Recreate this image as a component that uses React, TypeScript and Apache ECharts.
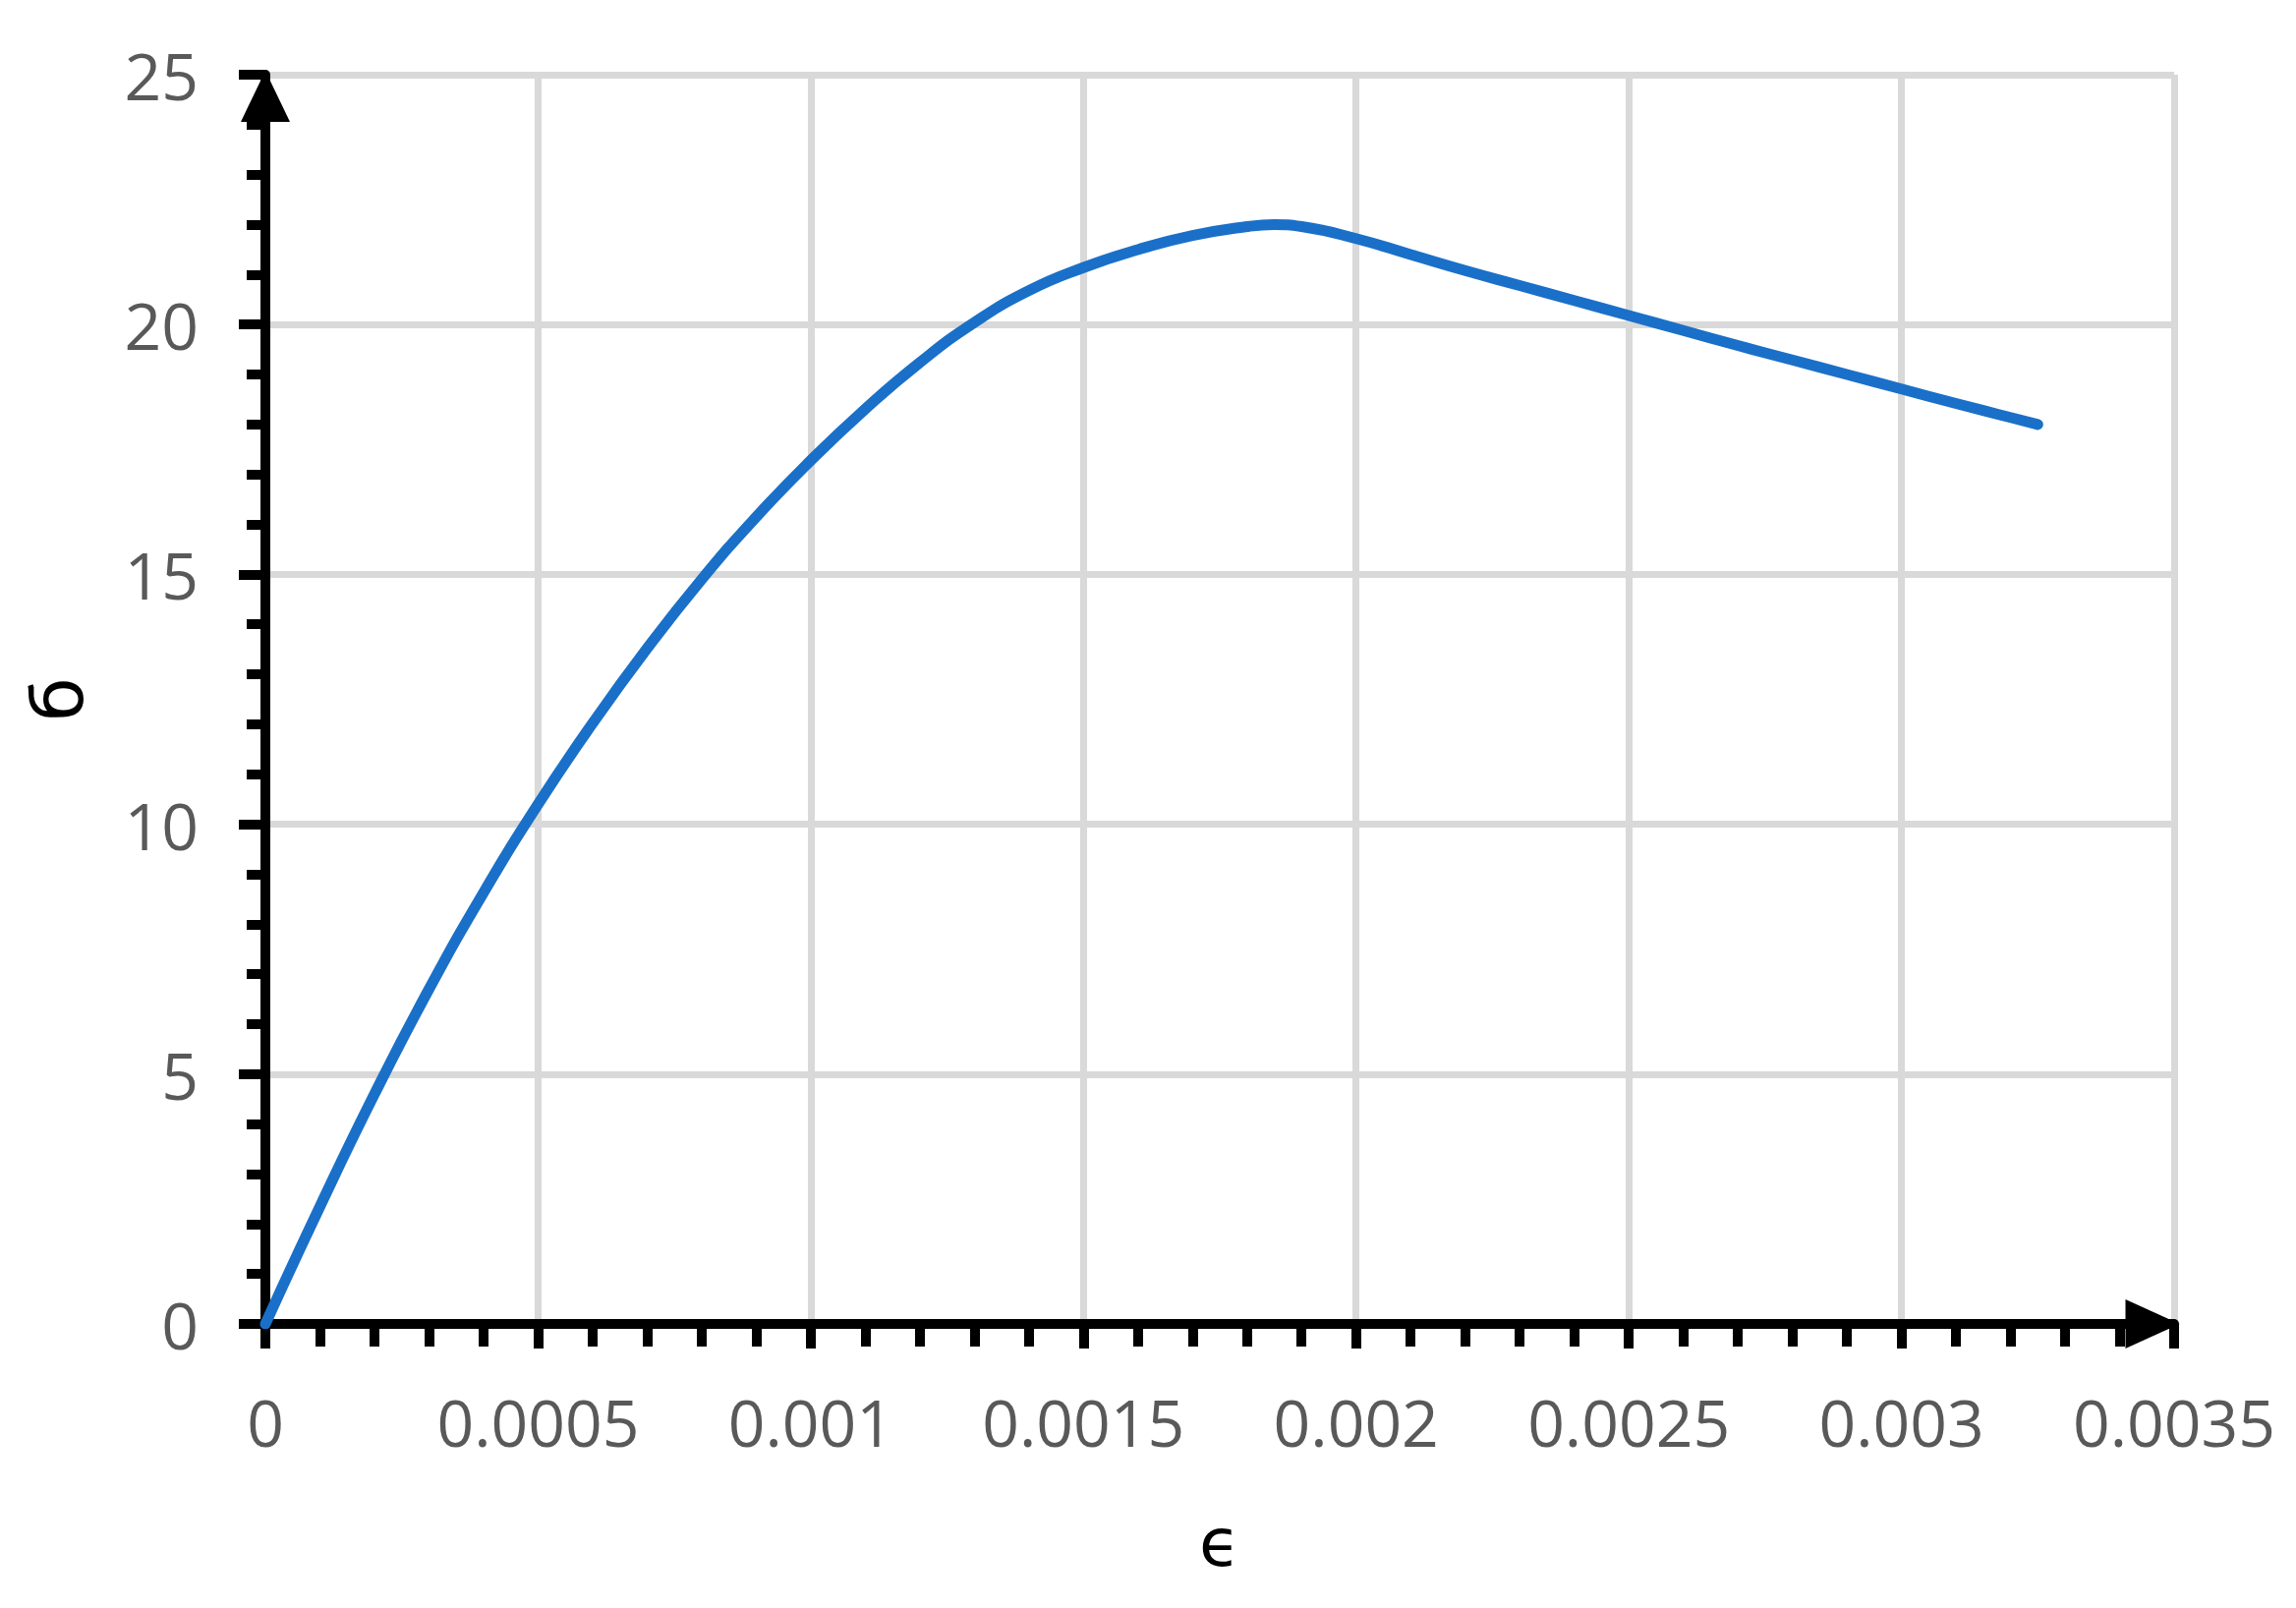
import React, { useEffect, useRef } from "react";
import * as echarts from "echarts";

// Strain (ε) and stress (σ)
const strain = [
  0, 0.0001, 0.0002, 0.0003, 0.0004, 0.0005, 0.0006, 0.0007, 0.0008, 0.0009,
  0.001, 0.0011, 0.0012, 0.0013, 0.0014, 0.0015, 0.0016, 0.0017, 0.0018,
  0.00185, 0.0019, 0.002, 0.0021, 0.0022, 0.0023, 0.0024, 0.0025, 0.0026,
  0.0027, 0.0028, 0.0029, 0.003, 0.0031, 0.0032, 0.00325,
];
const stress = [
  0, 2.35, 4.6, 6.7, 8.63, 10.4, 12.02, 13.52, 14.9, 16.15, 17.28, 18.31,
  19.24, 20.04, 20.68, 21.14, 21.5, 21.78, 21.96, 22.0, 21.96, 21.72, 21.4,
  21.08, 20.78, 20.48, 20.18, 19.88, 19.58, 19.29, 19.0, 18.71, 18.42, 18.14,
  18.0,
];
const xTickLabels = ["0", "0.0005", "0.001", "0.0015", "0.002", "0.0025", "0.003", "0.0035"];
const yTickLabels = ["0", "5", "10", "15", "20", "25"];

const xName = "ϵ";
const yName = "б";

export default function App() {
  const ref = useRef<HTMLDivElement>(null);
  useEffect(() => {
    if (!ref.current) return;
    const chart = echarts.init(ref.current, undefined, { renderer: "svg" });
    const labelStyle = {
      fontFamily: "Open Sans",
      fontSize: 66,
      color: "#595959",
    };
    chart.setOption({
      animation: false,
      backgroundColor: "#ffffff",
      grid: { left: 270, right: 124, top: 76, bottom: 289, containLabel: false },
      xAxis: {
        type: "value",
        min: 0,
        max: 0.0035,
        interval: 0.0005,
        name: xName,
        nameLocation: "middle",
        nameGap: 188,
        nameTextStyle: { fontFamily: "DejaVu Sans", fontSize: 68, color: "#000" },
        axisLine: {
          show: true,
          onZero: false,
          symbol: ["none", "triangle"],
          symbolSize: [50, 55],
          symbolOffset: [0, -22],
          lineStyle: { color: "#000", width: 10 },
        },
        axisTick: { show: true, inside: false, length: 25, lineStyle: { color: "#000", width: 10 } },
        minorTick: { show: true, splitNumber: 5, length: 23, lineStyle: { color: "#000", width: 10 } },
        axisLabel: {
          ...labelStyle,
          margin: 66,
          formatter: (_v: number, i: number) => xTickLabels[i] ?? "",
        },
        splitLine: { show: true, showMinLine: false, lineStyle: { color: "#d9d9d9", width: 7 } },
      },
      yAxis: {
        type: "value",
        min: 0,
        max: 25,
        interval: 5,
        name: yName,
        nameLocation: "middle",
        nameGap: 175,
        nameTextStyle: { fontFamily: "DejaVu Sans", fontSize: 72, color: "#000" },
        axisLine: {
          show: true,
          onZero: false,
          symbol: ["none", "triangle"],
          symbolSize: [50, 52],
          symbolOffset: [0, -22],
          lineStyle: { color: "#000", width: 10 },
        },
        axisTick: { show: true, inside: false, length: 27, lineStyle: { color: "#000", width: 10 } },
        minorTick: { show: true, splitNumber: 5, length: 19, lineStyle: { color: "#000", width: 10 } },
        axisLabel: {
          ...labelStyle,
          margin: 68,
          formatter: (_v: number, i: number) => yTickLabels[i] ?? "",
        },
        splitLine: { show: true, showMinLine: false, lineStyle: { color: "#d9d9d9", width: 7 } },
      },
      series: [
        {
          type: "line",
          data: strain.map((e, i) => [e, stress[i]]),
          smooth: 0.5,
          showSymbol: false,
          lineStyle: { color: "#1a70c8", width: 11, cap: "round", join: "round" },
          z: 1,
        },
      ],
    });
    return () => chart.dispose();
  }, []);
  return (
    <div
      ref={ref}
      style={{ position: "fixed", left: 0, top: 0, width: 2336, height: 1636, background: "#fff" }}
    />
  );
}
